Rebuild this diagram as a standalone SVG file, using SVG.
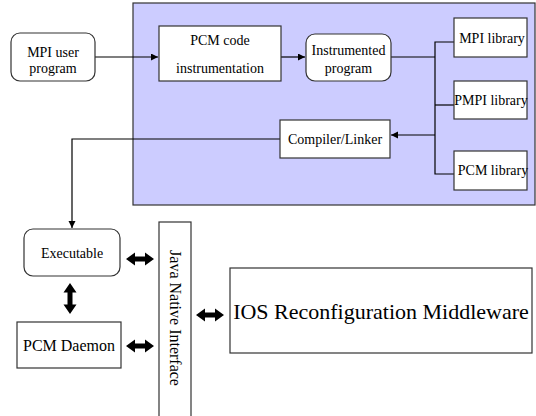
<svg xmlns="http://www.w3.org/2000/svg" width="536" height="416" viewBox="0 0 536 416">
<style>
.box{fill:#fff;stroke:#333;stroke-width:1.2}
.t{font-family:"Liberation Serif","Times New Roman",serif;font-size:14px;fill:#000;text-anchor:middle}
.ln{fill:none;stroke:#000;stroke-width:1.2}
.dbl{fill:#000}
</style>
<defs>
<marker id="ah" markerWidth="8" markerHeight="8" refX="7" refY="3.5" orient="auto" markerUnits="userSpaceOnUse">
<path d="M0,0 L7,3.5 L0,7 Z" fill="#000"/>
</marker>
<path id="dh" d="M-14,0 L-5,-6.5 L-5,-2.5 L5,-2.5 L5,-6.5 L14,0 L5,6.5 L5,2.5 L-5,2.5 L-5,6.5 Z"/>
<path id="dv" d="M0,-15.5 L-6.5,-6 L-2.5,-6 L-2.5,6 L-6.5,6 L0,15.5 L6.5,6 L2.5,6 L2.5,-6 L6.5,-6 Z"/>
</defs>
<rect width="536" height="416" fill="#fff"/>
<g id="panel"><rect x="133" y="3" width="402" height="202" fill="#ccccff" stroke="#333" stroke-width="1.2"/></g>
<g id="connectors">
<path class="ln" d="M95,57 H158" marker-end="url(#ah)"/>
<path class="ln" d="M281,57 H305" marker-end="url(#ah)"/>
<path class="ln" d="M391,57 H435"/>
<path class="ln" d="M454,42 H435 V174 H454"/>
<path class="ln" d="M435,105 H454"/>
<path class="ln" d="M435,135 H391" marker-end="url(#ah)"/>
<path class="ln" d="M280,139 H72 V228" marker-end="url(#ah)"/>
<use href="#dh" class="dbl" x="140" y="259"/>
<use href="#dh" class="dbl" x="140" y="346"/>
<use href="#dv" class="dbl" x="70" y="298.5"/>
<use href="#dh" class="dbl" x="210" y="315"/>
</g>
<g id="mpi-user"><rect class="box" x="11" y="33" width="84" height="48" rx="9"/>
<text class="t" x="53" y="57">MPI user</text><text class="t" x="53" y="73">program</text></g>
<g id="pcm-code"><rect class="box" x="159" y="26" width="122" height="55"/>
<text class="t" x="220" y="45">PCM code</text><text class="t" x="220" y="73">instrumentation</text></g>
<g id="instrumented"><rect class="box" x="306" y="34" width="85" height="47" rx="9"/>
<text class="t" x="348.5" y="55">Instrumented</text><text class="t" x="348.5" y="73">program</text></g>
<g id="mpi-lib"><rect class="box" x="454" y="18" width="73" height="39"/>
<text class="t" x="492" y="43">MPI library</text></g>
<g id="pmpi-lib"><rect class="box" x="454" y="81" width="73" height="38"/>
<text class="t" x="491" y="105">PMPI library</text></g>
<g id="pcm-lib"><rect class="box" x="454" y="151" width="73" height="39"/>
<text class="t" x="493" y="175">PCM library</text></g>
<g id="compiler"><rect class="box" x="280" y="120" width="110" height="38"/>
<text class="t" x="335" y="144">Compiler/Linker</text></g>
<g id="executable"><rect class="box" x="24" y="229" width="96" height="47" rx="9"/>
<text class="t" x="72" y="258">Executable</text></g>
<g id="daemon"><rect class="box" x="17" y="322" width="104" height="46"/>
<text class="t" x="69" y="351" style="font-size:16px">PCM Daemon</text></g>
<g id="jni"><rect class="box" x="159" y="222" width="32" height="200"/>
<text class="t" transform="translate(170,318) rotate(90)" style="font-size:16px">Java Native Interface</text></g>
<g id="ios"><rect class="box" x="230" y="268" width="302" height="85"/>
<text class="t" x="381" y="319" style="font-size:22px">IOS Reconfiguration Middleware</text></g>
</svg>
